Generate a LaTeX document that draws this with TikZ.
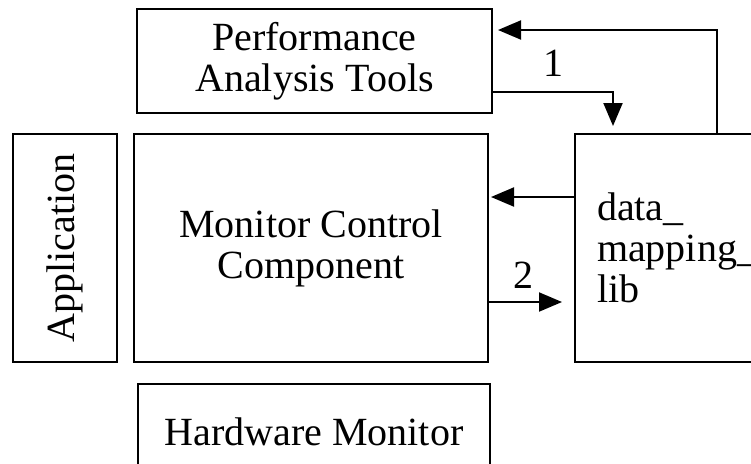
\documentclass[tikz,border=0pt]{standalone}
\usepackage{fontspec}
\setmainfont{Liberation Serif}
\usetikzlibrary{arrows.meta}
\begin{document}
\begin{tikzpicture}[x=1pt,y=-1pt,
  box/.style={draw,line width=2pt,rectangle,inner sep=0pt,align=center,
    font=\fontsize{40}{41}\selectfont},
  arr/.style={line width=2pt,-{Triangle[length=23pt,width=19pt]}},
  num/.style={font=\fontsize{40}{41}\selectfont,inner sep=0pt}]
\useasboundingbox (0,0) rectangle (751,463);
\clip (0,0) rectangle (751,463);
\node[box,minimum width=355pt,minimum height=104pt] (pat) at (314.5,61)
  {Performance\\Analysis Tools};
\node[box,minimum width=104pt,minimum height=228pt] (app) at (65,248)
  {\rotatebox{90}{Application}};
\node[box,minimum width=354pt,minimum height=228pt] (mcc) at (311,248)
  {Monitor Control\\Component};
\node[box,minimum width=200pt,minimum height=228pt,align=left,
  text width=156pt] (dml) at (675,248)
  {data\_\\mapping\_\\lib};
\node[box,minimum width=352pt,minimum height=96pt] (hw) at (314,432)
  {Hardware Monitor};
\coordinate (c1) at (717,30);
\coordinate (c2) at (613,92);
\coordinate (c3) at (0,197);
\coordinate (c4) at (0,302);
\draw[arr,shorten >=5pt] (dml.north -| c1) |- (pat.east |- c1);
\draw[arr,shorten >=7pt] (pat.east |- c2) -| (c2 |- dml.north);
\draw[arr,shorten >=2pt] (dml.west |- c3) -- (mcc.east |- c3);
\draw[arr,shorten >=12pt] (mcc.east |- c4) -- (dml.west |- c4);
\node[num] (n1) at (553,63) {1};
\node[num] (n2) at (523,275) {2};
\end{tikzpicture}
\end{document}
